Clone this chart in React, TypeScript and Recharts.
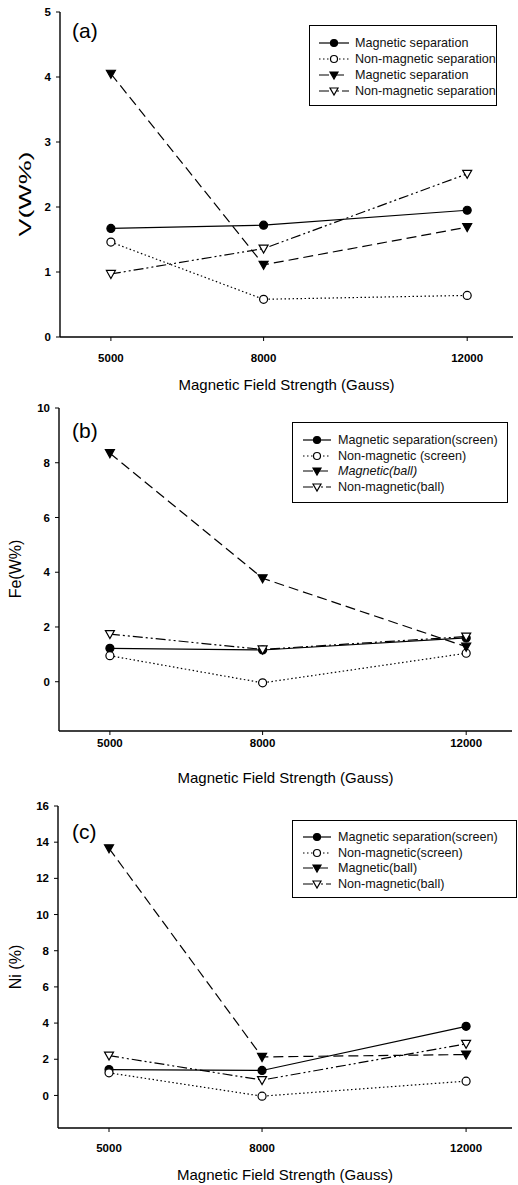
import { LineChart, Line, XAxis, YAxis, Legend, Label } from "recharts";

const FONT = '"Liberation Sans", Arial, sans-serif';

const FIELD = [5000, 8000, 12000];
const X_TICKS = [5000, 8000, 12000];

// (a) V
const V_MAG_SCREEN = [1.67, 1.72, 1.95];
const V_NONMAG_SCREEN = [1.46, 0.58, 0.64];
const V_MAG_BALL = [4.05, 1.11, 1.69];
const V_NONMAG_BALL = [0.97, 1.36, 2.51];
const V_TICKS = [0, 1, 2, 3, 4, 5];
const V_LEGEND = ["Magnetic separation", "Non-magnetic separation", "Magnetic separation", "Non-magnetic separation"];

// (b) Fe
const FE_MAG_SCREEN = [1.22, 1.16, 1.6];
const FE_NONMAG_SCREEN = [0.95, -0.04, 1.04];
const FE_MAG_BALL = [8.35, 3.78, 1.28];
const FE_NONMAG_BALL = [1.74, 1.18, 1.65];
const FE_TICKS = [0, 2, 4, 6, 8, 10];
const FE_LEGEND = ["Magnetic separation(screen)", "Non-magnetic (screen)", "Magnetic(ball)", "Non-magnetic(ball)"];

// (c) Ni
const NI_MAG_SCREEN = [1.43, 1.38, 3.82];
const NI_NONMAG_SCREEN = [1.25, -0.04, 0.79];
const NI_MAG_BALL = [13.66, 2.13, 2.26];
const NI_NONMAG_BALL = [2.2, 0.85, 2.85];
const NI_TICKS = [0, 2, 4, 6, 8, 10, 12, 14, 16];
const NI_LEGEND = ["Magnetic separation(screen)", "Non-magnetic(screen)", "Magnetic(ball)", "Non-magnetic(ball)"];

const SERIES = [
  { key: "s1", dash: undefined, shape: "circle", filled: true },
  { key: "s2", dash: "1.5 2.5", shape: "circle", filled: false },
  { key: "s3", dash: "10 5", shape: "tri", filled: true },
  { key: "s4", dash: "10 3 2 3 2 3", shape: "tri", filled: false },
];

function Marker({ cx, cy, shape, filled, r = 4 }: any) {
  if (cx == null || cy == null) return null;
  const fill = filled ? "#000" : "#fff";
  if (shape === "circle") return <circle cx={cx} cy={cy} r={r} fill={fill} stroke="#000" strokeWidth={1.2} />;
  const pts = `${cx - r - 0.5},${cy - r + 0.5} ${cx + r + 0.5},${cy - r + 0.5} ${cx},${cy + r + 0.5}`;
  return <polygon points={pts} fill={fill} stroke="#000" strokeWidth={1.2} strokeLinejoin="miter" />;
}

const makeDot = (s: any) => (p: any) => <Marker key={`${s.key}-${p.index}`} cx={p.cx} cy={p.cy} shape={s.shape} filled={s.filled} />;

function LegendBox({ labels, italic, w, h, padL, symW, gap, rowH, padT }: any) {
  return (
    <div style={{ width: w, height: h, border: "1px solid #000", boxSizing: "border-box", background: "#fff", paddingTop: padT, paddingLeft: padL, fontFamily: FONT }}>
      {SERIES.map((s, i) => (
        <div key={s.key} style={{ display: "flex", alignItems: "center", height: rowH }}>
          <svg width={symW} height={12} style={{ flex: "none" }}>
            <line x1={0} x2={symW} y1={6} y2={6} stroke="#000" strokeWidth={1.2} strokeDasharray={s.dash} />
            <Marker cx={symW / 2} cy={6} shape={s.shape} filled={s.filled} r={3.5} />
          </svg>
          <span style={{ marginLeft: gap, fontSize: 12.6, color: "#111", whiteSpace: "nowrap", fontStyle: italic === i ? "italic" : "normal" }}>{labels[i]}</span>
        </div>
      ))}
    </div>
  );
}

function Panel({ top, height, margin, xHeight, xTickMargin, titleOffset, domain, ticks, series, legend, box, letter, letterTop, yLabel, yLabelX, yLabelY, yLabelLen, italic }: any) {
  const data = FIELD.map((x, i) => ({ x, s1: series[0][i], s2: series[1][i], s3: series[2][i], s4: series[3][i] }));
  const tick = { fontSize: 11.5, fontWeight: "bold", fill: "#000", fontFamily: FONT };
  return (
    <>
      <div style={{ position: "absolute", left: 0, top, width: 518, height }}>
        <LineChart width={518} height={height} data={data} margin={margin} style={{ fontFamily: FONT }}>
          <XAxis dataKey="x" type="number" domain={[4000, 12900]} ticks={X_TICKS} allowDataOverflow height={xHeight}
            tick={tick} tickSize={4} tickMargin={xTickMargin} axisLine={{ stroke: "#000", strokeWidth: 1.4 }} tickLine={{ stroke: "#000" }}>
            <Label value="Magnetic Field Strength (Gauss)" position="insideBottom" offset={titleOffset} fontSize={15} fill="#000" />
          </XAxis>
          <XAxis xAxisId="top" orientation="top" type="number" domain={[0, 1]} height={0} tick={false} tickLine={false} axisLine={{ stroke: "#000", strokeWidth: 1.4 }} />
          <YAxis type="number" domain={domain} ticks={ticks} allowDataOverflow width={60} interval={0}
            tick={tick} tickSize={4} tickMargin={5} axisLine={{ stroke: "#000", strokeWidth: 1.4 }} tickLine={{ stroke: "#000" }}>
            <Label content={() => (
              <text x={yLabelX} y={yLabelY} transform={`rotate(-90 ${yLabelX} ${yLabelY})`} textAnchor="middle" dominantBaseline="central"
                fontSize={16} fill="#000" fontFamily={FONT} textLength={yLabelLen} lengthAdjust={yLabelLen ? "spacingAndGlyphs" : undefined}>{yLabel}</text>
            )} />
          </YAxis>
          <YAxis yAxisId="right" orientation="right" type="number" domain={[0, 1]} width={0} tick={false} tickLine={false} axisLine={{ stroke: "#000", strokeWidth: 1.4 }} />
          <Legend layout="vertical" align="center" verticalAlign="middle"
            wrapperStyle={{ left: box.left, top: box.top, width: box.w, height: box.h }}
            content={() => <LegendBox labels={legend} italic={italic} w={box.w} h={box.h} padL={box.padL} symW={box.symW} gap={box.gap} rowH={box.rowH} padT={box.padT} />} />
          {SERIES.map((s) => (
            <Line key={s.key} dataKey={s.key} type="linear" stroke="#000" strokeWidth={1.2} strokeDasharray={s.dash}
              dot={makeDot(s)} activeDot={false} isAnimationActive={false} legendType="none" />
          ))}
        </LineChart>
      </div>
      <div style={{ position: "absolute", left: 72, top: letterTop, fontSize: 21, lineHeight: "21px", fontFamily: FONT, color: "#000" }}>{letter}</div>
    </>
  );
}

export default function App() {
  return (
    <div style={{ position: "absolute", left: 0, top: 0, width: 518, height: 1185, background: "#fff", overflow: "hidden" }}>
      <Panel top={0} height={395} margin={{ top: 12, right: 5, left: 0, bottom: 0 }} xHeight={58} xTickMargin={13} titleOffset={5}
        domain={[0, 5]} ticks={V_TICKS} series={[V_MAG_SCREEN, V_NONMAG_SCREEN, V_MAG_BALL, V_NONMAG_BALL]} legend={V_LEGEND}
        box={{ left: 309, top: 25, w: 188, h: 81, padL: 9, symW: 30, gap: 6, rowH: 16, padT: 9 }}
        letter="(a)" letterTop={20} yLabel="V(W%)" yLabelX={25} yLabelY={194} yLabelLen={85} />
      <Panel top={395} height={395} margin={{ top: 13, right: 6, left: -1, bottom: 0 }} xHeight={59} xTickMargin={4} titleOffset={7}
        domain={[-1.8, 10]} ticks={FE_TICKS} series={[FE_MAG_SCREEN, FE_NONMAG_SCREEN, FE_MAG_BALL, FE_NONMAG_BALL]} legend={FE_LEGEND}
        box={{ left: 292, top: 27, w: 216, h: 81, padL: 10, symW: 28, gap: 7, rowH: 15.7, padT: 9 }} italic={2}
        letter="(b)" letterTop={420} yLabel="Fe(W%)" yLabelX={15} yLabelY={174} />
      <Panel top={790} height={395} margin={{ top: 16, right: 6, left: -2, bottom: 0 }} xHeight={57} xTickMargin={12} titleOffset={5}
        domain={[-1.8, 16]} ticks={NI_TICKS} series={[NI_MAG_SCREEN, NI_NONMAG_SCREEN, NI_MAG_BALL, NI_NONMAG_BALL]} legend={NI_LEGEND}
        box={{ left: 292, top: 30, w: 225, h: 78, padL: 10, symW: 28, gap: 7, rowH: 15.7, padT: 8 }}
        letter="(c)" letterTop={821} yLabel="Ni (%)" yLabelX={15} yLabelY={177} />
    </div>
  );
}
